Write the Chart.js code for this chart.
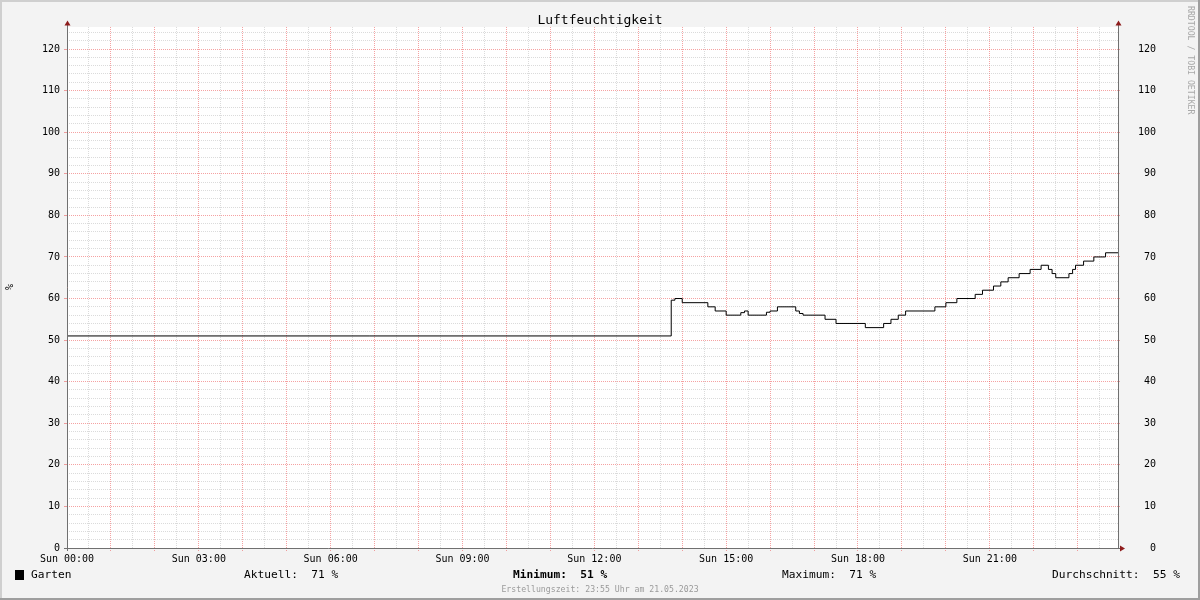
<!DOCTYPE html>
<html>
<head>
<meta charset="utf-8">
<script src="https://cdn.jsdelivr.net/npm/chart.js@4.4.0/dist/chart.umd.min.js"></script>
<style>
html,body{margin:0;padding:0;background:#f3f3f3;}
#wrap{width:1200px;height:600px;position:relative;}
</style>
</head>
<body>
<div id="wrap"><canvas id="c" width="1200" height="600"></canvas></div>
<script>
// ---- data ----
const times = ["00:00","13:45","13:50","14:00","14:35","14:45","15:00","15:20","15:25","15:30",
  "15:55","16:00","16:10","16:35","16:40","16:45","17:15","17:30","18:10","18:35",
  "18:45","18:55","19:05","19:45","20:00","20:15","20:40","20:50","21:05","21:15",
  "21:25","21:40","21:55","22:10","22:20","22:25","22:30","22:48","22:53","22:57",
  "23:08","23:22","23:38","23:55"];
const gartenValues = [51,59.6,60,59,58,57,56,56.6,57,56,
  56.7,57,58,57,56.4,56,55,54,53,54,
  55,56,57,58,59,60,61,62,63,64,
  65,66,67,68,67,66,65,66,67,68,
  69,70,71,71];
const xTickTimes = ["00:00","03:00","06:00","09:00","12:00","15:00","18:00","21:00"];
const xTickLabels = ["Sun 00:00","Sun 03:00","Sun 06:00","Sun 09:00","Sun 12:00","Sun 15:00","Sun 18:00","Sun 21:00"];
const yTickLabels = ["0","10","20","30","40","50","60","70","80","90","100","110","120"];
const seriesName = "Garten";
const legendItems = [
  {label:"Aktuell:", value:"71 %", bold:false},
  {label:"Minimum:", value:"51 %", bold:true},
  {label:"Maximum:", value:"71 %", bold:false},
  {label:"Durchschnitt:", value:"55 %", bold:false}
];
const chartTitle = "Luftfeuchtigkeit";
const yUnit = "%";
const watermark = "RRDTOOL / TOBI OETIKER";
const footer = "Erstellungszeit: 23:55 Uhr am 21.05.2023";

// ---- helpers ----
const toMin = s => { const p = s.split(":"); return (+p[0])*60 + (+p[1]); };
const xTickMinutes = xTickTimes.map(toMin);
const points = times.map((t,i) => ({x: toMin(t), y: gartenValues[i]}));
const X_MAX = toMin(times[times.length-1]);
const Y_MAX = 125.3;

const MONO = "'DejaVu Sans Mono', 'Liberation Mono', monospace";
const MINOR = "rgba(170,170,170,0.42)";
const MAJOR = "rgba(235,70,70,0.5)";
const AXIS = "#707070";
const ARROW = "#8e1c1c";

const decor = {
  id: 'rrdDecor',
  beforeDraw(chart) {
    const ctx = chart.ctx, a = chart.chartArea;
    ctx.save();
    ctx.fillStyle = '#f3f3f3';
    ctx.fillRect(0,0,chart.width,chart.height);
    ctx.fillStyle = '#cfcfcf';
    ctx.fillRect(0,0,chart.width,2);
    ctx.fillRect(0,0,2,chart.height);
    ctx.fillStyle = '#9e9e9e';
    ctx.fillRect(0,chart.height-2,chart.width,2);
    ctx.fillRect(chart.width-2,0,2,chart.height);
    ctx.fillStyle = '#ffffff';
    ctx.fillRect(a.left, a.top, a.right-a.left, a.bottom-a.top);
    ctx.restore();
  },
  afterDraw(chart) {
    const ctx = chart.ctx, a = chart.chartArea;
    ctx.save();
    ctx.strokeStyle = AXIS; ctx.lineWidth = 1;
    ctx.beginPath();
    ctx.moveTo(a.left+0.5, a.bottom+3); ctx.lineTo(a.left+0.5, a.top-3);
    ctx.moveTo(a.right+0.5, a.bottom); ctx.lineTo(a.right+0.5, a.top-3);
    ctx.moveTo(a.left-3, a.bottom+0.5); ctx.lineTo(a.right+3, a.bottom+0.5);
    ctx.stroke();
    ctx.fillStyle = ARROW;
    const up = (x) => { ctx.beginPath(); ctx.moveTo(x-2.5, a.top-1.5); ctx.lineTo(x+3.5, a.top-1.5); ctx.lineTo(x+0.5, a.top-6.5); ctx.closePath(); ctx.fill(); };
    up(a.left); up(a.right);
    ctx.beginPath(); ctx.moveTo(a.right+2, a.bottom-2.5); ctx.lineTo(a.right+2, a.bottom+3.5); ctx.lineTo(a.right+7, a.bottom+0.5); ctx.closePath(); ctx.fill();

    ctx.fillStyle = '#000';
    ctx.font = "10px " + MONO;
    ctx.textAlign = 'center'; ctx.textBaseline = 'middle';
    ctx.save(); ctx.translate(10, 287); ctx.rotate(-Math.PI/2); ctx.fillText(yUnit, 0, 0); ctx.restore();

    ctx.save();
    ctx.fillStyle = '#a8a8a8';
    ctx.font = "8.2px " + MONO;
    ctx.textAlign = 'left'; ctx.textBaseline = 'middle';
    ctx.translate(1190, 6); ctx.rotate(Math.PI/2); ctx.fillText(watermark, 0, 0);
    ctx.restore();

    const ly = 575.5;
    ctx.fillStyle = '#000';
    ctx.fillRect(15, 570, 9, 10);
    ctx.font = "11.2px " + MONO;
    ctx.textAlign = 'left'; ctx.textBaseline = 'middle';
    ctx.fillText(seriesName, 31, ly);
    const lx = [244, 513, 782, 1052];
    legendItems.forEach((it, i) => {
      ctx.font = (it.bold ? "bold " : "") + "11.2px " + MONO;
      ctx.fillText(it.label + "  " + it.value, lx[i], ly);
    });

    ctx.fillStyle = '#9a9a9a';
    ctx.font = "8.2px " + MONO;
    ctx.textAlign = 'center';
    ctx.fillText(footer, 600, 590);
    ctx.restore();
  }
};

const gridColor = (c) => (c.tick && Math.round(c.tick.value) % 10 === 0) ? MAJOR : MINOR;
const tickColorY = (c) => (c.tick && Math.round(c.tick.value) % 10 === 0) ? MAJOR : 'rgba(0,0,0,0)';
const gridColorX = (c) => (c.tick && Math.round(c.tick.value) % 60 === 0) ? MAJOR : MINOR;
const tickColorX = (c) => (c.tick && Math.round(c.tick.value) % 60 === 0) ? MAJOR : 'rgba(0,0,0,0)';

new Chart(document.getElementById('c'), {
  type: 'line',
  data: {
    datasets: [{
      label: seriesName,
      data: points,
      borderColor: '#000000',
      borderWidth: 1,
      pointRadius: 0,
      fill: false,
      stepped: 'before',
      tension: 0
    }]
  },
  options: {
    responsive: false,
    devicePixelRatio: 1,
    animation: false,
    events: [],
    layout: {padding: 0},
    plugins: {
      legend: {display: false},
      tooltip: {enabled: false},
      title: {
        display: true,
        text: chartTitle,
        color: '#000',
        font: {family: MONO, size: 13, weight: 'normal', lineHeight: 0.85},
        padding: {top: 15.5, bottom: 0.45}
      }
    },
    scales: {
      x: {
        type: 'linear',
        min: 0, max: X_MAX,
        afterFit(s) { s.height = 52; },
        border: {display: false, dash: [1,1]},
        grid: {color: gridColorX, tickColor: tickColorX, tickLength: 3, lineWidth: 1, tickBorderDash: [1,1]},
        ticks: {
          stepSize: 30, includeBounds: false, autoSkip: false, maxRotation: 0, minRotation: 0,
          padding: 2, color: '#000',
          font: {family: MONO, size: 10},
          callback(v) { const i = xTickMinutes.indexOf(Math.round(v)); return i >= 0 ? xTickLabels[i] : ''; }
        }
      },
      y: {
        position: 'left',
        min: 0, max: Y_MAX,
        afterFit(s) { s.width = 67; },
        border: {display: false, dash: [1,1]},
        grid: {color: gridColor, tickColor: tickColorY, tickLength: 3, lineWidth: 1},
        ticks: {
          stepSize: 2, includeBounds: false, autoSkip: false, padding: 4, color: '#000',
          font: {family: MONO, size: 10},
          callback(v) { const r = Math.round(v); return r % 10 === 0 ? yTickLabels[r/10] : ''; }
        }
      },
      y2: {
        position: 'right',
        min: 0, max: Y_MAX,
        afterFit(s) { s.width = 82; },
        border: {display: false},
        grid: {drawOnChartArea: false, drawTicks: true, tickLength: 2, color: MAJOR},
        ticks: {
          stepSize: 10, includeBounds: false, autoSkip: false, padding: 18, color: '#000',
          crossAlign: 'near',
          font: {family: MONO, size: 10},
          callback(v) { const r = Math.round(v); return yTickLabels[r/10].padStart(3, ' '); }
        }
      }
    }
  },
  plugins: [decor]
});
</script>
</body>
</html>
